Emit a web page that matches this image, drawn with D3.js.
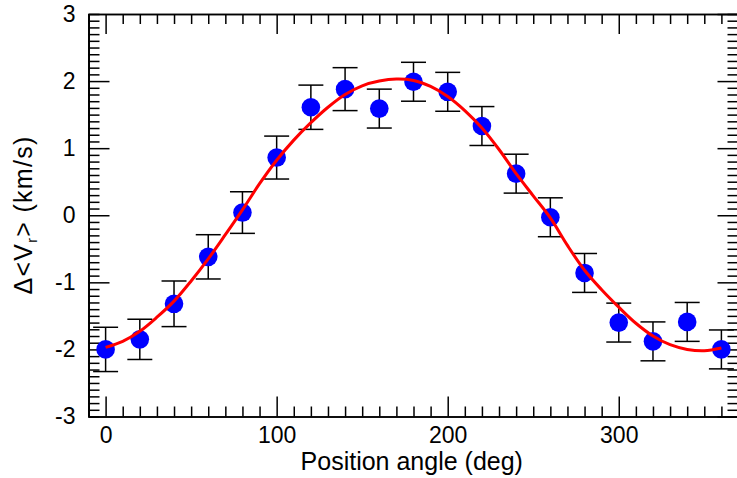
<!DOCTYPE html>
<html>
<head>
    <meta charset="utf-8">
    <title>Delta Vr vs Position angle</title>
    <script src="https://d3js.org/d3.v7.min.js"></script>
    <style>
        body {
            margin: 0;
            overflow: hidden;
            background: #ffffff;
            font-family: "Liberation Sans", Arial, Helvetica, sans-serif;
        }
        .axis path, .axis line {
            stroke: #000;
            stroke-width: 1.5px;
        }
        .axis text {
            font-family: "Liberation Sans", Arial, Helvetica, sans-serif;
            font-size: 23px;
            fill: #000;
        }
    </style>
</head>
<body>
    <script>
      // Measured points (position angle, mean radial velocity difference, error)
      var angles = [0, 20, 40, 60, 80, 100, 120, 140, 160, 180, 200, 220, 240, 260, 280, 300, 320, 340, 360];
      var deltaV = [-2.00, -1.85, -1.32, -0.62, 0.04, 0.86, 1.61, 1.88, 1.59, 1.99, 1.84, 1.33, 0.62, -0.03, -0.86, -1.60, -1.88, -1.59, -2.00];
      var errV   = [0.33, 0.30, 0.34, 0.33, 0.31, 0.32, 0.33, 0.32, 0.29, 0.29, 0.29, 0.29, 0.29, 0.29, 0.29, 0.29, 0.29, 0.29, 0.29];

      // Fitted curve, every 10 deg
      var fitAngles = [0, 10, 20, 30, 40, 50, 60, 70, 80, 90, 100, 110, 120, 130, 140, 150, 160, 170, 180,
                       190, 200, 210, 220, 230, 240, 250, 260, 270, 280, 290, 300, 310, 320, 330, 340, 350, 360];
      var fitV = [-1.97, -1.88, -1.73, -1.52, -1.28, -0.98, -0.65, -0.29, 0.08, 0.47, 0.82, 1.12, 1.38, 1.61, 1.80, 1.93, 2.00, 2.03, 2.01,
                  1.92, 1.77, 1.56, 1.30, 0.98, 0.62, 0.29, -0.04, -0.45, -0.82, -1.11, -1.37, -1.61, -1.80, -1.93, -2.00, -2.02, -1.98];

      var xMajor = [0, 100, 200, 300];
      var yMajor = [-3, -2, -1, 0, 1, 2, 3];

      var width = 737, height = 478;
      var pLeft = 88.5, pRight = 738.5, pTop = 14, pBottom = 416.5;

      // plain hyphen for negatives, like the original
      var fmt = function(d) { return String(d); };

      var svg = d3.select("body").append("svg")
        .attr("width", width)
        .attr("height", height);

      var xscale = d3.scaleLinear().domain([-10, 370]).range([pLeft, pRight]);
      var yscale = d3.scaleLinear().domain([-3, 3]).range([pBottom, pTop]);

      var xMinor = d3.range(-10, 371, 10).filter(function(v) { return xMajor.indexOf(v) < 0; });
      var yMinor = d3.range(-30, 31, 1).map(function(v) { return v / 10; })
        .filter(function(v) { return yMajor.indexOf(v) < 0; });

      // minor ticks first, no labels
      svg.append("g").attr("class", "axis")
        .attr("transform", "translate(0," + pBottom + ")")
        .call(d3.axisBottom(xscale).tickValues(xMinor).tickSize(-10).tickFormat(""));
      svg.append("g").attr("class", "axis")
        .attr("transform", "translate(0," + pTop + ")")
        .call(d3.axisTop(xscale).tickValues(xMinor).tickSize(-10).tickFormat(""));
      svg.append("g").attr("class", "axis")
        .attr("transform", "translate(" + pLeft + ",0)")
        .call(d3.axisLeft(yscale).tickValues(yMinor).tickSize(-11).tickFormat(""));
      svg.append("g").attr("class", "axis")
        .attr("transform", "translate(" + pRight + ",0)")
        .call(d3.axisRight(yscale).tickValues(yMinor).tickSize(-11).tickFormat(""));

      // major ticks
      svg.append("g").attr("class", "axis")
        .attr("transform", "translate(0," + pBottom + ")")
        .call(d3.axisBottom(xscale).tickValues(xMajor).tickSizeInner(-20).tickSizeOuter(0).tickPadding(10).tickFormat(fmt));
      svg.append("g").attr("class", "axis")
        .attr("transform", "translate(0," + pTop + ")")
        .call(d3.axisTop(xscale).tickValues(xMajor).tickSizeInner(-20).tickSizeOuter(0).tickFormat(""));
      svg.append("g").attr("class", "axis")
        .attr("transform", "translate(" + pLeft + ",0)")
        .call(d3.axisLeft(yscale).tickValues(yMajor.slice(1, -1)).tickSizeInner(-21).tickSizeOuter(0).tickPadding(13).tickFormat(fmt));
      svg.append("g").attr("class", "axis")
        .attr("transform", "translate(" + pRight + ",0)")
        .call(d3.axisRight(yscale).tickValues(yMajor).tickSizeInner(-21).tickSizeOuter(0).tickFormat(""));

      // end labels -3 and 3 sit at the corners, without a long tick
      svg.append("g").attr("class", "axis")
        .attr("transform", "translate(" + pLeft + ",0)")
        .call(d3.axisLeft(yscale).tickValues([-3, 3]).tickSizeInner(0).tickSizeOuter(0).tickPadding(13).tickFormat(fmt));

      // error bars
      var bars = svg.append("g").selectAll("g")
        .data(angles)
        .enter().append("g");
      bars.append("line")
        .attr("x1", function(d) { return xscale(d); })
        .attr("x2", function(d) { return xscale(d); })
        .attr("y1", function(d, i) { return yscale(deltaV[i] - errV[i]); })
        .attr("y2", function(d, i) { return yscale(deltaV[i] + errV[i]); })
        .attr("stroke", "#000").attr("stroke-width", 1.5);
      [-1, 1].forEach(function(s) {
        bars.append("line")
          .attr("x1", function(d) { return xscale(d - 7.3); })
          .attr("x2", function(d) { return xscale(d + 7.3); })
          .attr("y1", function(d, i) { return yscale(deltaV[i] + s * errV[i]); })
          .attr("y2", function(d, i) { return yscale(deltaV[i] + s * errV[i]); })
          .attr("stroke", "#000").attr("stroke-width", 1.5);
      });

      // points
      svg.append("g").selectAll("circle")
        .data(angles)
        .enter().append("circle")
        .attr("cx", function(d) { return xscale(d); })
        .attr("cy", function(d, i) { return yscale(deltaV[i]); })
        .attr("r", 9.3)
        .attr("fill", "#0000ff");

      // fit curve on top
      var line = d3.line()
        .x(function(d) { return xscale(d); })
        .y(function(d, i) { return yscale(fitV[i]); })
        .curve(d3.curveCatmullRom);
      svg.append("path")
        .datum(fitAngles)
        .attr("d", line)
        .attr("fill", "none")
        .attr("stroke", "#ff0000")
        .attr("stroke-width", 3);

      // axis titles
      svg.append("text")
        .attr("x", (pLeft + 737) / 2 - 1)
        .attr("y", 470)
        .attr("text-anchor", "middle")
        .style("font-size", "25px")
        .text("Position angle (deg)");

      var yt = svg.append("text")
        .attr("transform", "translate(32,215) rotate(-90)")
        .attr("text-anchor", "middle")
        .style("font-size", "25px")
        .style("letter-spacing", "1.3px");
      yt.append("tspan").text("\u0394<V");
      yt.append("tspan").attr("dy", 5).style("font-size", "14px").text("r");
      yt.append("tspan").attr("dy", -5).text("> (km/s)");
    </script>
</body>
</html>
